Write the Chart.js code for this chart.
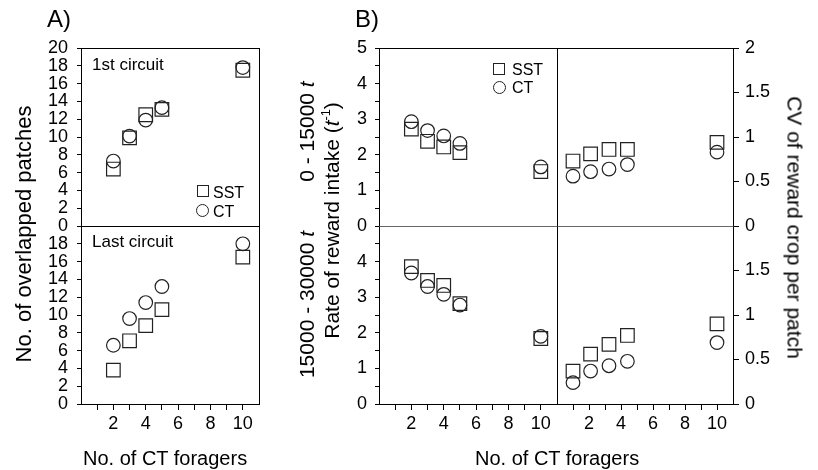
<!DOCTYPE html>
<html>
<head>
<meta charset="utf-8">
<script src="https://cdn.jsdelivr.net/npm/chart.js@4.4.1/dist/chart.umd.min.js"></script>
<style>
  html, body { margin: 0; padding: 0; background: #fff; }
  #wrap { position: relative; width: 818px; height: 470px; overflow: hidden;
          font-family: "Liberation Sans", Arial, sans-serif; color: #000; }
  canvas { position: absolute; left: 0; top: 0; }
  .t { position: absolute; white-space: nowrap; line-height: 1; }
  .rot { position: absolute; white-space: nowrap; line-height: 1; text-align: center; width: 400px; }
  .sq { position: absolute; border: 1px solid #222; box-sizing: border-box; }
  .ci { position: absolute; border: 1px solid #222; border-radius: 50%; box-sizing: border-box; }
  sup { font-size: 0.6em; line-height: 0; vertical-align: 0.7em; }
</style>
</head>
<body>
<div id="wrap">
  <canvas id="aTop" width="818" height="470"></canvas>
  <canvas id="aBot" width="818" height="470"></canvas>
  <canvas id="blTop" width="818" height="470"></canvas>
  <canvas id="blBot" width="818" height="470"></canvas>
  <canvas id="brTop" width="818" height="470"></canvas>
  <canvas id="brBot" width="818" height="470"></canvas>

  <div class="t" style="left:47px;top:6.7px;font-size:24px;">A)</div>
  <div class="t" style="left:355px;top:6.7px;font-size:24px;">B)</div>

  <div class="t" style="left:92px;top:55.6px;font-size:17px;">1st circuit</div>
  <div class="t" style="left:92px;top:232.6px;font-size:17px;">Last circuit</div>

  <div class="sq" style="left:197px;top:185px;width:12px;height:12px;"></div>
  <div class="t" style="left:213px;top:184.5px;font-size:16px;">SST</div>
  <div class="ci" style="left:196px;top:204px;width:13px;height:13px;"></div>
  <div class="t" style="left:213px;top:203.5px;font-size:16px;">CT</div>

  <div class="sq" style="left:493px;top:63px;width:12px;height:12px;"></div>
  <div class="t" style="left:512px;top:61.5px;font-size:16px;">SST</div>
  <div class="ci" style="left:493px;top:81px;width:13px;height:13px;"></div>
  <div class="t" style="left:512px;top:79.5px;font-size:16px;">CT</div>

  <div class="t" style="left:83px;top:448px;font-size:20px;">No. of CT foragers</div>
  <div class="t" style="left:475px;top:448px;font-size:20px;">No. of CT foragers</div>

  <div class="rot" style="left:-176px;top:223px;font-size:22px;transform:rotate(-90deg);">No. of overlapped patches</div>
  <div class="rot" style="left:106px;top:120.5px;font-size:21px;transform:rotate(-90deg);">0 - 15000 <i>t</i></div>
  <div class="rot" style="left:106px;top:293.5px;font-size:21px;transform:rotate(-90deg);">15000 - 30000 <i>t</i></div>
  <div class="rot" style="left:131px;top:209.5px;font-size:21px;transform:rotate(-90deg);">Rate of reward intake (<i>t</i><sup>-1</sup>)</div>
  <div class="rot" style="left:595px;top:217px;font-size:21px;transform:rotate(90deg);">CV of reward crop per patch</div>
</div>

<script>
// ---- data ----
const foragers = [2, 3, 4, 5, 10];
const foragersCV = [1.0, 2.1, 3.25, 4.4, 10];
const xTickValues = [1, 2, 3, 4, 5, 6, 7, 8, 9, 10];
const xTickLabels = [2, 4, 6, 8, 10];

// A) no. of overlapped patches
const overlapFirstSST = [6.4, 9.9, 12.5, 13.1, 17.5];
const overlapFirstCT  = [7.3, 10.1, 11.9, 13.3, 17.8];
const overlapLastSST  = [3.8, 7.1, 8.8, 10.6, 16.5];
const overlapLastCT   = [6.6, 9.6, 11.4, 13.2, 18.0];

// B) rate of reward intake
const intakeEarlySST = [2.72, 2.38, 2.22, 2.06, 1.53];
const intakeEarlyCT  = [2.93, 2.68, 2.53, 2.32, 1.66];
const intakeLateSST  = [3.86, 3.47, 3.33, 2.82, 1.84];
const intakeLateCT   = [3.68, 3.30, 3.08, 2.78, 1.90];

// B) CV of reward crop per patch
const cvEarlySST = [0.73, 0.81, 0.86, 0.86, 0.94];
const cvEarlyCT  = [0.56, 0.61, 0.64, 0.69, 0.83];
const cvLateSST  = [0.37, 0.56, 0.67, 0.77, 0.90];
const cvLateCT   = [0.24, 0.37, 0.43, 0.48, 0.69];

const W = 818, H = 470, YW = 40, XH = 46;
const FONT = "'Liberation Sans', Arial, sans-serif";

// box around each plot area
function align(p) { return Math.round(p - 0.5) + 0.5; }

const framePlugin = {
  id: 'frame',
  afterDraw(chart, args, o) {
    const a = chart.chartArea, ctx = chart.ctx;
    const l = align(a.left), r = align(a.right), t = align(a.top), b = align(a.bottom);
    ctx.save();
    ctx.lineWidth = 1;
    const side = (x1, y1, x2, y2, c) => {
      ctx.strokeStyle = c;
      ctx.beginPath(); ctx.moveTo(x1, y1); ctx.lineTo(x2, y2); ctx.stroke();
    };
    side(l, t - 0.5, l, b + 0.5, '#000');
    side(r, t - 0.5, r, b + 0.5, '#000');
    side(l, t, r, t, o.topColor || '#000');
    side(l, b, r, b, o.bottomColor || '#000');
    ctx.restore();
  }
};

function points(xs, ys) {
  return xs.map((x, i) => ({ x: x, y: ys[i] }));
}

function panel(id, box, xs, sst, ct, y, showX, frame) {
  const yPos = y.position || 'left';
  const pad = {
    left: box.l - (yPos === 'left' ? YW : 0),
    right: W - box.r - (yPos === 'right' ? YW : 0),
    top: box.t,
    bottom: H - box.b - (showX ? XH : 0)
  };
  new Chart(document.getElementById(id), {
    type: 'scatter',
    data: {
      datasets: [
        { label: 'SST', data: points(xs, sst), pointStyle: 'rect', pointRadius: 9.6,
          borderColor: '#222', borderWidth: 1.2, backgroundColor: 'rgba(0,0,0,0)' },
        { label: 'CT', data: points(xs, ct), pointStyle: 'circle', pointRadius: 6.8,
          borderColor: '#222', borderWidth: 1.2, backgroundColor: 'rgba(0,0,0,0)' }
      ]
    },
    options: {
      responsive: false,
      animation: false,
      events: [],
      layout: { padding: pad },
      plugins: { legend: { display: false }, tooltip: { enabled: false }, frame: frame || {} },
      scales: {
        x: {
          type: 'linear', min: 0, max: 11, display: showX,
          afterBuildTicks: s => { s.ticks = xTickValues.map(v => ({ value: v })); },
          afterFit: s => { s.height = showX ? XH : 0; },
          border: { display: false },
          grid: { drawOnChartArea: false, drawTicks: true, tickLength: 6, color: '#000' },
          ticks: {
            autoSkip: false, maxRotation: 0, padding: 3, color: '#000',
            font: { size: 18, family: FONT },
            callback: v => xTickLabels.includes(v) ? String(v) : ''
          }
        },
        y: {
          type: 'linear', position: yPos, min: y.min, max: y.max,
          afterFit: s => { s.width = YW; },
          border: { display: false },
          grid: { drawOnChartArea: false, drawTicks: true, tickLength: y.tick, color: '#000' },
          ticks: {
            stepSize: y.step, autoSkip: false, padding: y.pad, color: '#000',
            font: { size: 18, family: FONT },
            callback: y.label
          }
        }
      }
    },
    plugins: [framePlugin]
  });
}

const areaA = { l: 81, r: 259 }, areaBL = { l: 379, r: 557 }, areaBR = { l: 557, r: 733 };
const rowTop = { t: 48, b: 226 }, rowBot = { t: 226, b: 404 };

const yOverlap = (hideMax) => ({ min: 0, max: 20, step: 2, tick: 4, pad: 9,
  label: v => (hideMax && v === 20) ? '' : String(v) });
const yIntake = (hideMax) => ({ min: 0, max: 5, step: 0.5, tick: 4, pad: 8,
  label: v => (Number.isInteger(v) && !(hideMax && v === 5)) ? String(v) : '' });
const yCV = (hideMax) => ({ min: 0, max: 2, step: 0.5, tick: 6, pad: 6, position: 'right',
  label: v => (hideMax && v === 2) ? '' : String(v) });

panel('aTop', { ...areaA, ...rowTop }, foragers, overlapFirstSST, overlapFirstCT, yOverlap(false), false);
panel('aBot', { ...areaA, ...rowBot }, foragers, overlapLastSST, overlapLastCT, yOverlap(true), true);
panel('blTop', { ...areaBL, ...rowTop }, foragers, intakeEarlySST, intakeEarlyCT, yIntake(false), false,
  { bottomColor: '#666' });
panel('blBot', { ...areaBL, ...rowBot }, foragers, intakeLateSST, intakeLateCT, yIntake(true), true,
  { topColor: '#666' });
panel('brTop', { ...areaBR, ...rowTop }, foragersCV, cvEarlySST, cvEarlyCT, yCV(false), false,
  { bottomColor: '#666' });
panel('brBot', { ...areaBR, ...rowBot }, foragersCV, cvLateSST, cvLateCT, yCV(true), true,
  { topColor: '#666' });
</script>
</body>
</html>
